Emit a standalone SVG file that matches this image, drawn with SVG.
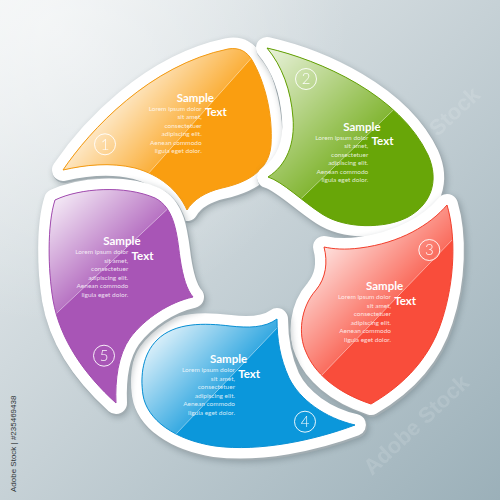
<svg xmlns="http://www.w3.org/2000/svg" xmlns:xlink="http://www.w3.org/1999/xlink" width="500" height="500" viewBox="0 0 500 500">
<style>
.shadow{fill:#44545c;stroke:#44545c;stroke-width:24;stroke-linejoin:round;opacity:.32;filter:url(#blur)}
.edge{fill:#a2adb2;stroke:#a2adb2;stroke-width:23;stroke-linejoin:round}
.sticker{fill:#fff;stroke:#fff;stroke-width:22;stroke-linejoin:round}
.num{fill:none;stroke:#fff;stroke-width:1;opacity:.9}
.numt{font-family:Lato,"Liberation Sans",sans-serif;font-weight:300;font-size:15px;fill:#fff;text-anchor:middle;opacity:.95}
.title{font-family:Lato,"Liberation Sans",sans-serif;font-weight:bold;font-size:11.5px;fill:#fff}
.body{font-family:Lato,"Liberation Sans",sans-serif;font-size:6.5px;fill:#fff;fill-opacity:.82;text-anchor:end}
.hl{stroke:#fff;stroke-width:1;opacity:.45}
.wm{font-family:"Liberation Sans",sans-serif;font-weight:bold;font-size:22px;fill:#fff;opacity:.12}
</style>
<defs>
<filter id="blur" x="-20%" y="-20%" width="140%" height="140%"><feGaussianBlur stdDeviation="3"/></filter>
<linearGradient id="bg" x1="0" y1="0" x2="1" y2="1">
<stop offset="0" stop-color="#eef1f2"/><stop offset="0.5" stop-color="#c6d1d6"/><stop offset="1" stop-color="#9bb0b9"/>
</linearGradient>
<radialGradient id="bgr" cx="0.1" cy="0.05" r="0.6">
<stop offset="0" stop-color="#fff" stop-opacity=".5"/><stop offset="1" stop-color="#fff" stop-opacity="0"/>
</radialGradient>
<path id="p1" d="M63,170 C90,130 150,65 228,49 C240,47 247,52 252,60 C265,82 273,115 271,145 C269,172 245,183 222,188 C205,192 193,200 187,210 C178,190 160,175 135,168 C110,162 85,165 63,170 Z"/>
<path id="p2" d="M267,48 C320,60 400,95 428,155 C440,182 430,205 408,217 C385,229 345,229 322,214 C302,201 283,182 268,177 C287,165 295,143 293,118 C291,90 282,66 267,48 Z"/>
<path id="p3" d="M447,205 C430,225 400,243 360,248 C345,250 333,249 324,247 C328,262 326,278 316,290 C300,308 298,335 306,352 C314,372 335,392 371,404 C395,390 428,365 442,320 C455,280 456,235 447,205 Z"/>
<path id="p4" d="M277,319 C265,328 248,328 230,326 C205,323 175,322 157,340 C143,354 140,375 143,395 C147,420 175,440 215,446 C260,452 315,440 355,425 C325,418 300,400 289,378 C280,358 277,340 277,319 Z"/>
<path id="p5" d="M55,200 C80,188 125,185 155,198 C175,208 177,235 180,258 C183,278 187,290 193,297 C170,302 145,318 130,338 C118,355 115,380 116,403 C85,375 60,340 53,300 C48,270 47,225 55,200 Z"/>
<clipPath id="c1"><use xlink:href="#p1"/></clipPath>
<clipPath id="c2"><use xlink:href="#p2"/></clipPath>
<clipPath id="c3"><use xlink:href="#p3"/></clipPath>
<clipPath id="c4"><use xlink:href="#p4"/></clipPath>
<clipPath id="c5"><use xlink:href="#p5"/></clipPath>
<linearGradient id="g1" gradientUnits="userSpaceOnUse" x1="193.3" y1="123.2" x2="137.3" y2="73.2">
<stop offset="0" stop-color="#fff" stop-opacity=".18"/><stop offset="1" stop-color="#fff" stop-opacity=".8"/></linearGradient>
<linearGradient id="g2" gradientUnits="userSpaceOnUse" x1="351.7" y1="150" x2="261.6" y2="56.3">
<stop offset="0" stop-color="#fff" stop-opacity=".18"/><stop offset="1" stop-color="#fff" stop-opacity=".85"/></linearGradient>
<linearGradient id="g3" gradientUnits="userSpaceOnUse" x1="387.5" y1="307" x2="322.7" y2="244.5">
<stop offset="0" stop-color="#fff" stop-opacity=".18"/><stop offset="1" stop-color="#fff" stop-opacity=".85"/></linearGradient>
<linearGradient id="g4" gradientUnits="userSpaceOnUse" x1="227.5" y1="380" x2="169.6" y2="324.8">
<stop offset="0" stop-color="#fff" stop-opacity=".18"/><stop offset="1" stop-color="#fff" stop-opacity=".85"/></linearGradient>
<linearGradient id="g5" gradientUnits="userSpaceOnUse" x1="115" y1="258.3" x2="56.8" y2="196.3">
<stop offset="0" stop-color="#fff" stop-opacity=".18"/><stop offset="1" stop-color="#fff" stop-opacity=".88"/></linearGradient>
</defs>

<rect width="500" height="500" fill="url(#bg)"/>
<rect width="500" height="500" fill="url(#bgr)"/>

<g id="watermarks">
<text class="wm" transform="translate(383,188) rotate(-43)">Adobe Stock</text>
<text class="wm" transform="translate(372,476) rotate(-43)">Adobe Stock</text>
</g>

<g id="segment-1">
<use xlink:href="#p1" class="shadow" transform="translate(2,3)"/>
<use xlink:href="#p1" class="edge" transform="translate(1,1.5)"/>
<use xlink:href="#p1" class="sticker"/>
<use xlink:href="#p1" fill="#fa9e10"/>
<g clip-path="url(#c1)">
<polygon points="313,-11 73,258 -151,58 89,-211" fill="url(#g1)"/>
<line class="hl" x1="313" y1="-11" x2="73" y2="258"/>
</g>
<use xlink:href="#p1" fill="none" stroke="#f39a12" stroke-width="1"/>
<circle class="num" cx="105" cy="144.3" r="10.5"/>
<text class="numt" x="105" y="149.6">1</text>
<g transform="translate(176.7,101.5)">
<text class="title">Sample</text>
<text class="title" x="28.3" y="14.5">Text</text>
<text class="body" x="25" y="9.2">Lorem ipsum dolor</text>
<text class="body" x="25" y="17.7">sit amet,</text>
<text class="body" x="25" y="26.2">consectetuer</text>
<text class="body" x="25" y="34.7">adipiscing elit.</text>
<text class="body" x="25" y="43.2">Aenean commodo</text>
<text class="body" x="25" y="51.7">ligula eget dolor.</text>
</g>
</g>

<g id="segment-2">
<use xlink:href="#p2" class="shadow" transform="translate(2,3)"/>
<use xlink:href="#p2" class="edge" transform="translate(1,1.5)"/>
<use xlink:href="#p2" class="sticker"/>
<use xlink:href="#p2" fill="#68a608"/>
<g clip-path="url(#c2)">
<polygon points="468.8,37.4 234.6,262.6 26.6,46.4 260.8,-178.8" fill="url(#g2)"/>
<line class="hl" x1="468.8" y1="37.4" x2="234.6" y2="262.6"/>
</g>
<use xlink:href="#p2" fill="none" stroke="#64a006" stroke-width="1"/>
<circle class="num" cx="306" cy="79" r="10.5"/>
<text class="numt" x="306" y="84.3">2</text>
<g transform="translate(343.3,130.7)">
<text class="title">Sample</text>
<text class="title" x="28.3" y="14.5">Text</text>
<text class="body" x="25" y="9.2">Lorem ipsum dolor</text>
<text class="body" x="25" y="17.7">sit amet,</text>
<text class="body" x="25" y="26.2">consectetuer</text>
<text class="body" x="25" y="34.7">adipiscing elit.</text>
<text class="body" x="25" y="43.2">Aenean commodo</text>
<text class="body" x="25" y="51.7">ligula eget dolor.</text>
</g>
</g>

<g id="segment-3">
<use xlink:href="#p3" class="shadow" transform="translate(2,3)"/>
<use xlink:href="#p3" class="edge" transform="translate(1,1.5)"/>
<use xlink:href="#p3" class="sticker"/>
<use xlink:href="#p3" fill="#f94d3b"/>
<g clip-path="url(#c3)">
<polygon points="524.4,165 250.6,449 34.6,240.8 308.4,-43.2" fill="url(#g3)"/>
<line class="hl" x1="524.4" y1="165" x2="250.6" y2="449"/>
</g>
<use xlink:href="#p3" fill="none" stroke="#f2412e" stroke-width="1"/>
<circle class="num" cx="429.3" cy="250" r="10.5"/>
<text class="numt" x="429.3" y="255.3">3</text>
<g transform="translate(366,290.3)">
<text class="title">Sample</text>
<text class="title" x="28.3" y="14.5">Text</text>
<text class="body" x="25" y="9.2">Lorem ipsum dolor</text>
<text class="body" x="25" y="17.7">sit amet,</text>
<text class="body" x="25" y="26.2">consectetuer</text>
<text class="body" x="25" y="34.7">adipiscing elit.</text>
<text class="body" x="25" y="43.2">Aenean commodo</text>
<text class="body" x="25" y="51.7">ligula eget dolor.</text>
</g>
</g>

<g id="segment-4">
<use xlink:href="#p4" class="shadow" transform="translate(2,3)"/>
<use xlink:href="#p4" class="edge" transform="translate(1,1.5)"/>
<use xlink:href="#p4" class="sticker"/>
<use xlink:href="#p4" fill="#0b97db"/>
<g clip-path="url(#c4)">
<polygon points="347.3,254.3 107.7,505.7 -109.5,298.7 130.1,47.3" fill="url(#g4)"/>
<line class="hl" x1="347.3" y1="254.3" x2="107.7" y2="505.7"/>
</g>
<use xlink:href="#p4" fill="none" stroke="#0a90d4" stroke-width="1"/>
<circle class="num" cx="305" cy="421.7" r="10.5"/>
<text class="numt" x="305" y="427">4</text>
<g transform="translate(210,363.3)">
<text class="title">Sample</text>
<text class="title" x="28.3" y="14.5">Text</text>
<text class="body" x="25" y="9.2">Lorem ipsum dolor</text>
<text class="body" x="25" y="17.7">sit amet,</text>
<text class="body" x="25" y="26.2">consectetuer</text>
<text class="body" x="25" y="34.7">adipiscing elit.</text>
<text class="body" x="25" y="43.2">Aenean commodo</text>
<text class="body" x="25" y="51.7">ligula eget dolor.</text>
</g>
</g>

<g id="segment-5">
<use xlink:href="#p5" class="shadow" transform="translate(2,3)"/>
<use xlink:href="#p5" class="edge" transform="translate(1,1.5)"/>
<use xlink:href="#p5" class="sticker"/>
<use xlink:href="#p5" fill="#a855b6"/>
<g clip-path="url(#c5)">
<polygon points="242.9,138.2 -12.9,378.5 -218.4,159.8 37.4,-80.5" fill="url(#g5)"/>
<line class="hl" x1="242.9" y1="138.2" x2="-12.9" y2="378.5"/>
</g>
<use xlink:href="#p5" fill="none" stroke="#a24db0" stroke-width="1"/>
<circle class="num" cx="104" cy="355.7" r="10.5"/>
<text class="numt" x="104" y="361">5</text>
<g transform="translate(103.3,245)">
<text class="title">Sample</text>
<text class="title" x="28.3" y="14.5">Text</text>
<text class="body" x="25" y="9.2">Lorem ipsum dolor</text>
<text class="body" x="25" y="17.7">sit amet,</text>
<text class="body" x="25" y="26.2">consectetuer</text>
<text class="body" x="25" y="34.7">adipiscing elit.</text>
<text class="body" x="25" y="43.2">Aenean commodo</text>
<text class="body" x="25" y="51.7">ligula eget dolor.</text>
</g>
</g>

<g id="connectors"></g>

<text transform="translate(15.5,492) rotate(-90)" font-family="'Liberation Sans',sans-serif" font-size="8" fill="#2f3537">Adobe Stock | #235469438</text>
</svg>
